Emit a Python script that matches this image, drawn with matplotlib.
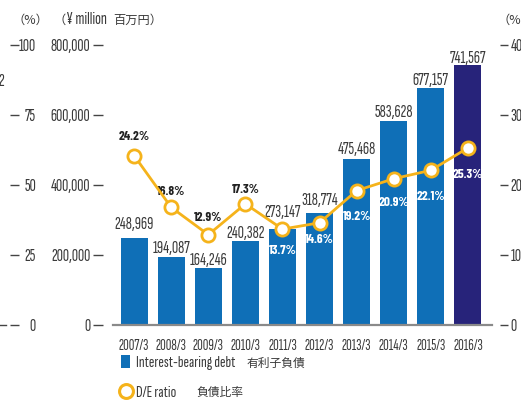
import numpy as np
import matplotlib
matplotlib.use('Agg')
import matplotlib.pyplot as plt
from matplotlib.patches import Patch
from matplotlib.lines import Line2D
from matplotlib.textpath import TextPath
from matplotlib.font_manager import FontProperties

# datos
years = ['2007/3', '2008/3', '2009/3', '2010/3', '2011/3', '2012/3', '2013/3', '2014/3', '2015/3', '2016/3']
debt = [248969, 194087, 164246, 240382, 273147, 318774, 475468, 583628, 677157, 741567]
de_ratio = [24.2, 16.8, 12.9, 17.3, 13.7, 14.6, 19.2, 20.9, 22.1, 25.3]
left_ticks = [0, 200000, 400000, 600000, 800000]
right_ticks = [0, 10, 20, 30, 40]
edge_ticks = [0, 25, 50, 75, 100]

LAT = 'Sofia Sans Extra Condensed'
BOLD = 'Barlow Condensed'
JP = 'Noto Sans CJK JP'
plt.rcParams['font.family'] = [LAT, JP, 'DejaVu Sans']
TXT = '#3a3a3a'
BLUE = '#0f6fb7'
NAVY = '#27237a'
GOLD = '#f5b31b'

W, H = 521, 403
PT = 0.72  # px -> pt


def fit(text, target_px, family=LAT, weight='normal'):
    # tamaño en pt para que el texto mida target_px de ancho
    w100 = TextPath((0, 0), text, prop=FontProperties(family=family, weight=weight, size=100)).get_extents().width
    return target_px * PT * 100 / w100


VAL = fit('248,969', 38)
TICK = VAL * 0.9
LEG = fit('Interest-bearing debt', 98)
PCT = 9.5

fig = plt.figure(figsize=(W / 100, H / 100), dpi=100)
ax = fig.add_axes([113 / W, 78 / H, 379 / W, 280 / H])

x = np.arange(len(years))
colors = [BLUE] * (len(years) - 1) + [NAVY]
ax.bar(x, debt, width=0.73, color=colors, zorder=2)
ax.set_xlim(-0.57, 9.65)
ax.set_ylim(0, 800000)

for s in ['top', 'right', 'left']:
    ax.spines[s].set_visible(False)
ax.spines['bottom'].set_color('#8a8a8a')
ax.spines['bottom'].set_linewidth(1.6)
ax.spines['bottom'].set_zorder(3)
ax.spines['left'].set_position(('outward', 7))

ax.set_yticks(left_ticks)
ax.set_yticklabels([f'{v:,}' for v in left_ticks])
ax.tick_params(axis='y', length=10 * PT, width=1, color='#444444', pad=3 * PT,
               labelsize=VAL, labelcolor=TXT)
ax.set_xticks(x)
ax.set_xticklabels(years)
ax.tick_params(axis='x', length=0, pad=14 * PT, labelsize=TICK, labelcolor=TXT)

# etiquetas de barras
gaps = [9, 4, 2.5, 3, 12, 8, 5, 4, 3, 2.5]
for i, v in enumerate(debt):
    ax.annotate(f'{v:,}', (i, v), xytext=(0, gaps[i] * PT), textcoords='offset points',
                ha='center', va='baseline', fontsize=VAL, color=TXT)

# eje derecho D/E
ax2 = ax.twinx()
ax2.set_ylim(0, 40)
for s in ['top', 'left', 'bottom', 'right']:
    ax2.spines[s].set_visible(False)
ax2.spines['right'].set_position(('outward', 6))
ax2.set_yticks(right_ticks)
ax2.tick_params(axis='y', length=8 * PT, width=1, color='#444444', pad=2 * PT,
                labelsize=VAL, labelcolor=TXT)
ax2.plot(x, de_ratio, color=GOLD, lw=2, marker='o', ms=9.5, mfc='white', mec=GOLD,
         mew=2, zorder=5)

de_off = [19, 16, 17, 14, -21, -17, -26, -24, -26, -27]
for i, v in enumerate(de_ratio):
    c = '#222222' if de_off[i] > 0 else 'white'
    ax2.annotate(f'{v}%', (i, v), xytext=(0, de_off[i] * PT), textcoords='offset points',
                 ha='center', va='center', fontsize=PCT, family=BOLD, fontweight='bold', color=c)

# eje cortado del gráfico vecino (borde izquierdo)
ax3 = ax.twinx()
ax3.set_ylim(0, 100)
for s in ['top', 'left', 'bottom', 'right']:
    ax3.spines[s].set_visible(False)
ax3.spines['right'].set_position(('axes', (10 - 113) / 379))
ax3.set_yticks(edge_ticks)
ax3.tick_params(axis='y', length=9 * PT, width=1, color='#444444', pad=17 * PT,
                labelsize=VAL, labelcolor=TXT)
for lab in ax3.get_yticklabels():
    lab.set_horizontalalignment('right')
fig.add_artist(Line2D([0, 6 / W], [78 / H, 78 / H], color='#444444', lw=1))
fig.text(-2 / W, 1 - 82 / H, '2', fontsize=VAL, color=TXT, va='center', ha='left')

# unidades
yh = 1 - 20 / H
fig.text(30 / W, yh, '（%）', fontsize=8.8, family=JP, color=TXT, ha='center', va='center')
fig.text(497 / W, yh, '（%）', fontsize=8.8, family=JP, color=TXT, ha='left', va='center')
p1 = fig.text(53 / W, yh, '（', fontsize=8.8, family=JP, color=TXT, ha='left', va='center')
fig.canvas.draw()
bb = p1.get_window_extent()
p2 = fig.text((bb.x1 + 1) / W, yh, '¥ million', fontsize=VAL, color=TXT, ha='left', va='center')
fig.canvas.draw()
bb = p2.get_window_extent()
fig.text((bb.x1 + 6) / W, yh, '百万円）', fontsize=8.8, family=JP, color=TXT, ha='left', va='center')

# leyenda
em = LEG / PT
handles = [Patch(facecolor=BLUE, edgecolor='none'),
           Line2D([], [], color=GOLD, marker='o', ls='none', ms=10, mfc='white', mew=2.2)]
labels = ['Interest-bearing debt', 'D/E ratio']
leg = fig.legend(handles, labels, loc='upper left', bbox_to_anchor=(121 / W, 1 - 355 / H),
                 frameon=False, fontsize=LEG, labelcolor=TXT, handlelength=9 / em,
                 handleheight=14 / em, handletextpad=6 / em, labelspacing=14 / em,
                 borderpad=0, borderaxespad=0)

# textos en japonés a continuación de la leyenda
fig.canvas.draw()
jp_labels = ['有利子負債', '負債比率']
jp_gap = [11, 20]
for t, jl, g in zip(leg.get_texts(), jp_labels, jp_gap):
    bb = t.get_window_extent()
    fig.text((bb.x1 + g) / W, (bb.y0 + bb.y1) / 2 / H, jl, fontsize=8.5, family=JP,
             color=TXT, ha='left', va='center')

fig.savefig('out.png', dpi=100)
